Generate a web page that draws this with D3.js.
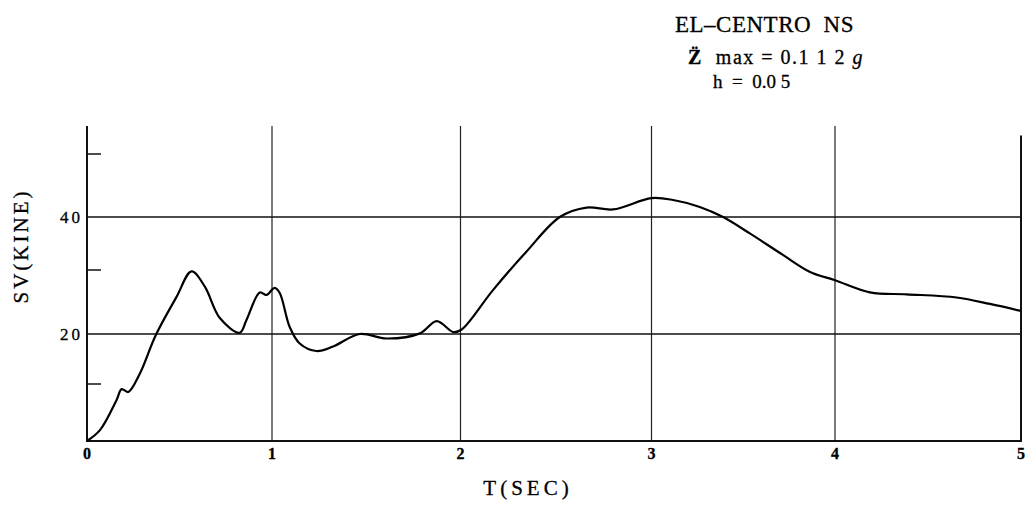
<!DOCTYPE html>
<html>
<head>
<meta charset="utf-8">
<script src="https://cdn.jsdelivr.net/npm/d3@7"></script>
<style>
  body { margin: 0; background: #fff; }
  svg { display: block; }
  text { font-family: 'Liberation Serif', 'DejaVu Serif', serif; fill: #000; stroke: #000; stroke-width: 0.3px; }
</style>
</head>
<body>
<div id="chart"><svg width="1027" height="510"></svg></div>
<script>
// period T (sec) and velocity response SV (kine)
const periods = [0, 0.07, 0.16, 0.187, 0.223, 0.286, 0.372, 0.484, 0.565, 0.637, 0.718, 0.826,
  0.862, 0.934, 0.97, 1.014, 1.041, 1.094, 1.147, 1.236, 1.324, 1.465, 1.608, 1.785, 1.874,
  1.962, 2.006, 2.171, 2.346, 2.52, 2.66, 2.799, 3.0, 3.118, 3.263, 3.39, 3.536, 3.718, 3.864,
  4.0, 4.188, 4.385, 4.654, 4.833, 5.0];
const sv = [0, 1.9, 7.2, 9.1, 8.6, 12.1, 19.8, 25.8, 29.8, 27.4, 22.5, 20.2,
  22.2, 26.5, 26.1, 27.2, 26.4, 21.1, 18.1, 16.6, 17.5, 20.0, 19.1, 20.1, 22.0,
  20.3, 20.7, 26.9, 33.5, 40.0, 41.5, 41.2, 43.0, 42.7, 41.6, 40.0, 36.9, 32.8, 29.7,
  28.4, 26.5, 26.2, 25.7, 24.7, 23.6];

const xTicks = [0, 1, 2, 3, 4, 5];
const yGrid = [20, 40];
const yMinor = [10, 30, 50];
const yLabels = [20, 40];

const SVG = d3.select('#chart svg');

// the scanned plot is slightly uneven, so the scales are piecewise
const X_SCALE = d3.scaleLinear()
  .domain([0, 1, 2, 3, 4, 5])
  .range([87, 272, 460.5, 651.5, 835, 1021]);
const Y_SCALE = d3.scaleLinear()
  .domain([0, 10, 20, 30, 40, 50, 55.3])
  .range([441, 384, 334, 270, 217, 154, 126]);

const LEFT = X_SCALE(0);
const RIGHT = X_SCALE(5);
const BOTTOM = Y_SCALE(0);
const TOP = Y_SCALE(55.3);

// grid
const GRID = SVG.append('g').attr('id', 'grid');
GRID.selectAll('line.v')
  .data(xTicks.slice(1, 5))
  .join('line')
  .attr('class', 'v')
  .attr('x1', (d) => X_SCALE(d))
  .attr('x2', (d) => X_SCALE(d))
  .attr('y1', TOP)
  .attr('y2', BOTTOM)
  .style('stroke', '#222')
  .style('stroke-width', 1.2);
GRID.selectAll('line.h')
  .data(yGrid)
  .join('line')
  .attr('class', 'h')
  .attr('x1', LEFT)
  .attr('x2', RIGHT)
  .attr('y1', (d) => Y_SCALE(d))
  .attr('y2', (d) => Y_SCALE(d))
  .style('stroke', '#111')
  .style('stroke-width', 1.5);
GRID.selectAll('line.minor')
  .data(yMinor)
  .join('line')
  .attr('class', 'minor')
  .attr('x1', LEFT)
  .attr('x2', LEFT + 14)
  .attr('y1', (d) => Y_SCALE(d))
  .attr('y2', (d) => Y_SCALE(d))
  .style('stroke', '#111')
  .style('stroke-width', 1.5);

// frame: left axis, bottom axis, right edge
SVG.append('path')
  .attr('d', `M${LEFT},${TOP}V${BOTTOM}H${RIGHT}V${Y_SCALE(53.5)}`)
  .style('fill', 'none')
  .style('stroke', '#111')
  .style('stroke-width', 2);

// tick labels
SVG.append('g')
  .selectAll('text')
  .data(xTicks)
  .join('text')
  .attr('x', (d) => X_SCALE(d))
  .attr('y', BOTTOM + 18)
  .attr('text-anchor', 'middle')
  .style('font-size', '16px')
  .style('font-weight', 'bold')
  .text((d) => d);
SVG.append('g')
  .selectAll('text')
  .data(yLabels)
  .join('text')
  .attr('x', LEFT - 4)
  .attr('y', (d) => Y_SCALE(d) + 6)
  .attr('text-anchor', 'end')
  .style('font-size', '17px')
  .style('letter-spacing', '3px')
  .text((d) => d);

// axis titles
SVG.append('text')
  .attr('transform', 'translate(28, 246) rotate(-90)')
  .attr('text-anchor', 'middle')
  .style('font-size', '21px')
  .style('letter-spacing', '3px')
  .text('SV(KINE)');
SVG.append('text')
  .attr('x', 528)
  .attr('y', 495)
  .attr('text-anchor', 'middle')
  .style('font-size', '21px')
  .style('letter-spacing', '4px')
  .text('T(SEC)');

// title block
SVG.append('text')
  .attr('x', 675)
  .attr('y', 32)
  .style('font-size', '23px')
  .style('letter-spacing', '0.5px')
  .style('white-space', 'pre')
  .text('EL\u2013CENTRO  NS');
const L2 = SVG.append('text')
  .attr('x', 688)
  .attr('y', 64)
  .style('font-size', '20px')
  .style('letter-spacing', '1.5px')
  .style('white-space', 'pre');
L2.append('tspan').style('font-weight', 'bold').text('Z\u0308');
L2.append('tspan').text('  max = 0.1 1 2 ');
L2.append('tspan').style('font-style', 'italic').text('g');
SVG.append('text')
  .attr('x', 713)
  .attr('y', 88)
  .style('font-size', '19px')
  .style('white-space', 'pre')
  .text('h  =  0.0 5');

// response curve
const LINE = d3.line()
  .x((d) => X_SCALE(d[0]))
  .y((d) => Y_SCALE(d[1]))
  .curve(d3.curveCatmullRom.alpha(0.5));
SVG.append('path')
  .datum(d3.zip(periods, sv))
  .attr('d', LINE)
  .style('fill', 'none')
  .style('stroke', '#000')
  .style('stroke-width', 2.2);
</script>
</body>
</html>
